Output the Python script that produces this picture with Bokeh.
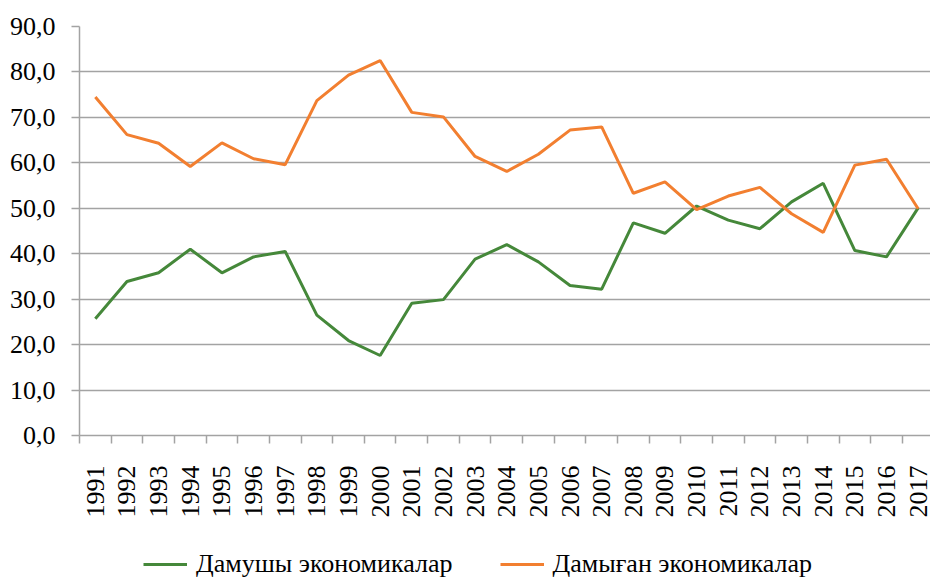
import math
from bokeh.plotting import figure
from bokeh.layouts import column
from bokeh.models import (Range1d, FixedTicker, Legend, LegendItem)
from bokeh.embed import file_html
from bokeh.resources import INLINE

years = list(range(1991, 2018))
developing = [25.7, 33.9, 35.8, 41.0, 35.8, 39.3, 40.5, 26.5, 20.9, 17.6,
              29.1, 29.9, 38.8, 42.0, 38.2, 33.0, 32.2, 46.8, 44.5, 50.5,
              47.4, 45.5, 51.4, 55.5, 40.7, 39.3, 50.1]
developed = [74.5, 66.2, 64.3, 59.2, 64.4, 60.9, 59.6, 73.7, 79.3, 82.5,
             71.1, 70.1, 61.4, 58.1, 61.9, 67.2, 67.9, 53.3, 55.8, 49.7,
             52.7, 54.6, 48.8, 44.7, 59.5, 60.8, 49.9]
y_ticks = [0, 10, 20, 30, 40, 50, 60, 70, 80, 90]
y_tick_labels = ["0,0", "10,0", "20,0", "30,0", "40,0", "50,0", "60,0", "70,0", "80,0", "90,0"]
series_names = ["Дамушы экономикалар", "Дамыған экономикалар"]

FONT = "Liberation Serif"
GRID = "#a3a3a3"
GREEN = "#45883a"
ORANGE = "#f27f30"

p = figure(width=930, height=520, output_backend="svg", toolbar_location=None,
           x_range=Range1d(1990.5, 2017.39), y_range=Range1d(0, 90),
           min_border_left=79, min_border_right=0, min_border_top=26,
           min_border_bottom=77)
p.outline_line_color = None
p.background_fill_color = "white"
p.border_fill_color = "white"

p.line(years, developing, line_color=GREEN, line_width=3)
p.line(years, developed, line_color=ORANGE, line_width=3)

# y axis
p.yaxis.ticker = FixedTicker(ticks=y_ticks)
p.yaxis.major_label_overrides = {t: l for t, l in zip(y_ticks, y_tick_labels)}
p.yaxis.major_label_text_font = FONT
p.yaxis.major_label_text_font_size = "26px"
p.yaxis.major_label_text_color = "black"
p.yaxis.axis_line_color = GRID
p.yaxis.axis_line_width = 1.5
p.yaxis.major_tick_line_color = GRID
p.yaxis.major_tick_line_width = 1.5
p.yaxis.major_tick_out = 8
p.yaxis.major_tick_in = 0
p.yaxis.minor_tick_line_color = None
p.yaxis.major_label_standoff = 16

p.ygrid.ticker = FixedTicker(ticks=y_ticks)
p.ygrid.grid_line_color = GRID
p.ygrid.grid_line_width = 1.5
p.xgrid.grid_line_color = None

# x axis
p.xaxis.ticker = FixedTicker(ticks=years, minor_ticks=[y - 0.5 for y in years] + [2017.5])
p.xaxis.major_label_overrides = {y: str(y) for y in years}
p.xaxis.major_label_orientation = math.pi / 2
p.xaxis.major_label_text_font = FONT
p.xaxis.major_label_text_font_size = "26px"
p.xaxis.major_label_text_color = "black"
p.xaxis.major_tick_line_color = None
p.xaxis.major_tick_out = 0
p.xaxis.major_tick_in = 0
p.xaxis.minor_tick_line_color = GRID
p.xaxis.minor_tick_line_width = 1.5
p.xaxis.minor_tick_out = 8
p.xaxis.minor_tick_in = 0
p.xaxis.axis_line_color = GRID
p.xaxis.axis_line_width = 1.5
p.xaxis.major_label_standoff = 22

# legend strip below the chart (proxy lines lie outside its visible range)
p2 = figure(width=930, height=60, output_backend="svg", toolbar_location=None,
            x_range=Range1d(0, 1), y_range=Range1d(0, 1),
            min_border_left=0, min_border_right=0, min_border_top=0,
            min_border_bottom=0, x_axis_location=None, y_axis_location=None)
p2.outline_line_color = None
p2.grid.grid_line_color = None
l1 = p2.line(years, developing, line_color=GREEN, line_width=3)
l2 = p2.line(years, developed, line_color=ORANGE, line_width=3)

legend = Legend(items=[LegendItem(label=series_names[0], renderers=[l1]),
                       LegendItem(label=series_names[1], renderers=[l2])],
                location=(64, 1), orientation="horizontal")
legend.label_text_font = FONT
legend.label_text_font_size = "26px"
legend.label_text_color = "black"
legend.glyph_width = 44
legend.glyph_height = 24
legend.label_height = 24
legend.label_standoff = 9
legend.spacing = 47
legend.padding = 0
legend.margin = 0
legend.border_line_color = None
legend.background_fill_alpha = 0
p2.add_layout(legend, "center")

open("out.html", "w").write(file_html(column(p, p2), INLINE))
